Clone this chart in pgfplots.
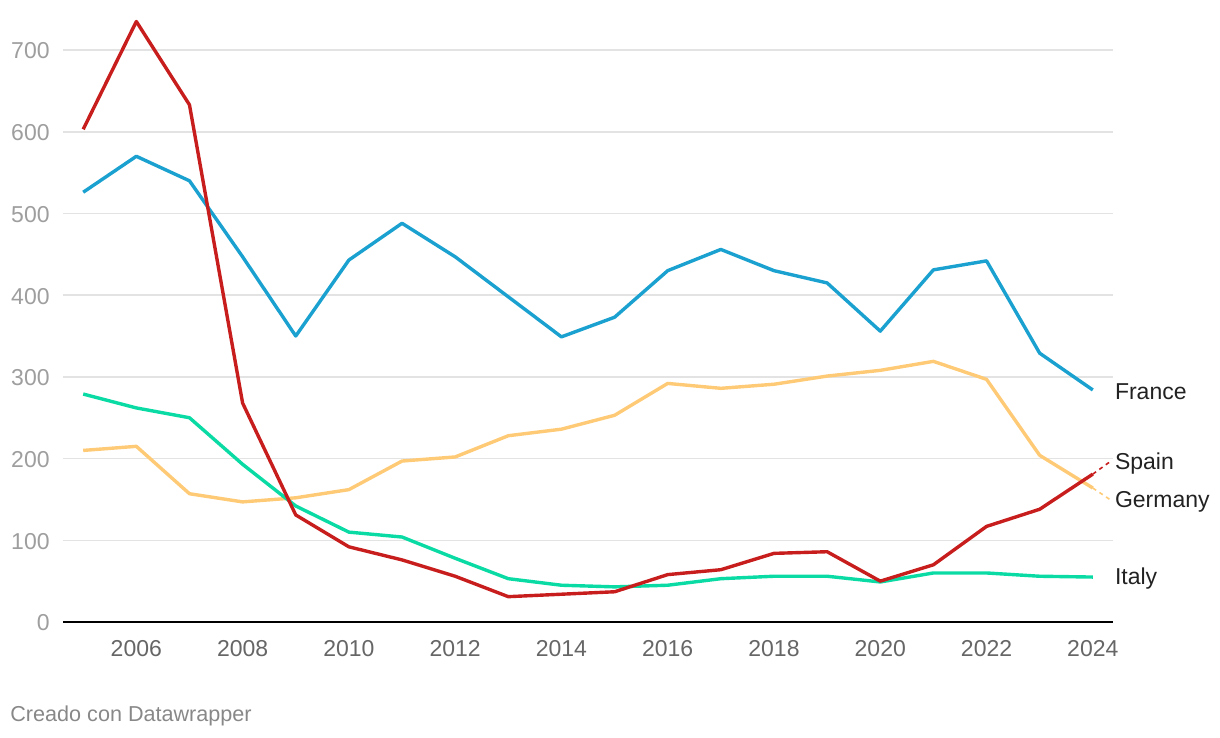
\documentclass[border=0pt]{standalone}
\usepackage{pgfplots}
\pgfplotsset{compat=1.18}
\usepackage{fontspec}
\setmainfont{Liberation Sans}

\definecolor{cfrance}{HTML}{1BA1CF}
\definecolor{cspain}{HTML}{C71E1D}
\definecolor{cgermany}{HTML}{FFCA76}
\definecolor{citaly}{HTML}{0ADAA3}
\definecolor{gridc}{HTML}{E3E3E3}
\definecolor{ytickc}{HTML}{9E9E9E}
\definecolor{xtickc}{HTML}{666666}
\definecolor{labc}{HTML}{222222}
\definecolor{footc}{HTML}{888888}

\begin{document}
\begin{tikzpicture}
\path[use as bounding box] (0,0) rectangle (610pt,369pt);
\begin{axis}[
  at={(31.5pt,58pt)}, anchor=south west,
  scale only axis, width=525pt, height=302.3pt,
  xmin=2004.62, xmax=2024.38, ymin=0, ymax=740,
  axis x line=bottom, axis y line=left,
  x axis line style={-, black, line width=1pt},
  y axis line style={draw=none},
  xtick={2006,2008,...,2024}, ytick={0,100,...,700},
  major tick length=0pt,
  ymajorgrids, grid style={gridc, line width=0.75pt},
  /pgf/number format/assume math mode=true,
  xticklabel style={/pgf/number format/1000 sep={}, font=\fontsize{11.5}{13}\selectfont, text=xtickc, inner sep=0pt, anchor=north, yshift=-9pt},
  yticklabel style={font=\fontsize{11.5}{13}\selectfont, text=ytickc, inner sep=0pt, anchor=east, xshift=-6.5pt, yshift=-0.5pt},
  clip=false,
  every axis plot/.append style={line width=1.7pt, line join=round, no markers},
]
% France
\addplot[cfrance] coordinates {(2005,526) (2006,570) (2007,540) (2008,447) (2009,350) (2010,443) (2011,488) (2012,447) (2013,398) (2014,349) (2015,373) (2016,430) (2017,456) (2018,430) (2019,415) (2020,356) (2021,431) (2022,442) (2023,329) (2024,284)};
% Germany
\addplot[cgermany] coordinates {(2005,210) (2006,215) (2007,157) (2008,147) (2009,152) (2010,162) (2011,197) (2012,202) (2013,228) (2014,236) (2015,253) (2016,292) (2017,286) (2018,291) (2019,301) (2020,308) (2021,319) (2022,297) (2023,204) (2024,164)};
% Italy
\addplot[citaly] coordinates {(2005,279) (2006,262) (2007,250) (2008,193) (2009,142) (2010,110) (2011,104) (2012,78) (2013,53) (2014,45) (2015,43) (2016,45) (2017,53) (2018,56) (2019,56) (2020,49) (2021,60) (2022,60) (2023,56) (2024,55)};
% Spain
\addplot[cspain] coordinates {(2005,603) (2006,735) (2007,633) (2008,268) (2009,131) (2010,92) (2011,76) (2012,56) (2013,31) (2014,34) (2015,37) (2016,58) (2017,64) (2018,84) (2019,86) (2020,50) (2021,70) (2022,117) (2023,138) (2024,181)};
% label connectors
\addplot[cspain, line width=0.8pt, dash pattern=on 2pt off 2pt] coordinates {(2024,181) (2024.32,196)};
\addplot[cgermany, line width=0.8pt, dash pattern=on 2pt off 2pt] coordinates {(2024,164) (2024.32,150)};
\begin{scope}[every node/.style={anchor=west, inner sep=0pt, text=labc, yshift=-1pt, font=\fontsize{11.5}{13}\selectfont}]
\node at (axis cs:2024.41,284) {France};
\node at (axis cs:2024.41,196) {Spain};
\node at (axis cs:2024.41,150) {Germany};
\node at (axis cs:2024.41,56) {Italy};
\end{scope}
\end{axis}
\node[anchor=west, inner sep=0pt, text=footc, font=\fontsize{10.8}{12}\selectfont] at (5pt,11pt) {Creado con Datawrapper};
\end{tikzpicture}
\end{document}
